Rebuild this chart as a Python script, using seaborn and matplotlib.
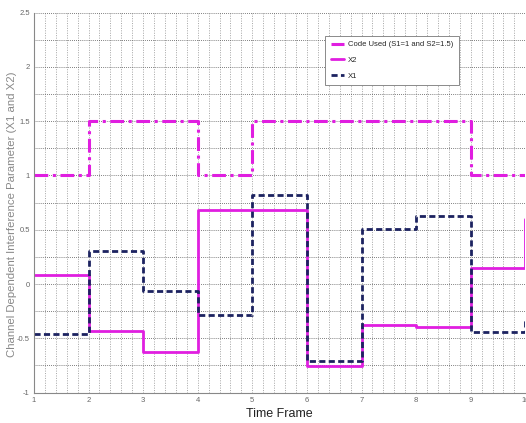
import pandas as pd
import seaborn as sns
import matplotlib.pyplot as plt
from matplotlib.ticker import MultipleLocator

sns.set_theme(style="white")
plt.rcParams['font.family'] = ['Liberation Sans Narrow', 'Liberation Sans', 'DejaVu Sans']

# time frames (value at each frame holds until the next one)
frames = [1, 2, 3, 4, 5, 6, 7, 8, 9, 10]
code_used = [1, 1.5, 1.5, 1, 1.5, 1.5, 1.5, 1.5, 1, 1]
x2 = [0.08, -0.43, -0.63, 0.68, 0.68, -0.755, -0.38, -0.40, 0.15, 0.60]
x1 = [-0.46, 0.30, -0.06, -0.29, 0.82, -0.71, 0.505, 0.63, -0.44, -0.32]

df = pd.DataFrame({"frame": frames, "code": code_used, "X2": x2, "X1": x1})

fig = plt.figure(figsize=(5.26, 4.23), dpi=100)
ax = fig.add_axes([0.0646, 0.072, 0.934, 0.898])

magenta = "#e01ee0"
navy = "#1c2260"

sns.lineplot(data=df, x="frame", y="code", ax=ax, drawstyle="steps-post",
             color=magenta, linewidth=2.2, linestyle=(0, (4.5, 1.5, 1, 1.5)),
             label="Code Used (S1=1 and S2=1.5)")
sns.lineplot(data=df, x="frame", y="X2", ax=ax, drawstyle="steps-post",
             color=magenta, linewidth=2.0, label="X2")
sns.lineplot(data=df, x="frame", y="X1", ax=ax, drawstyle="steps-post",
             color=navy, linewidth=2.0, linestyle=(0, (2.2, 1.2)), label="X1")

ax.set_xlim(1, 10)
ax.set_ylim(-1, 2.5)
ax.xaxis.set_major_locator(MultipleLocator(1))
ax.xaxis.set_minor_locator(MultipleLocator(0.2))
ax.yaxis.set_minor_locator(MultipleLocator(0.25))
ax.set_yticks([-1, -0.5, 0, 0.5, 1, 1.5, 2, 2.5])
ax.set_yticklabels(["-1", "-0.5", "0", "0.5", "1", "1.5", "2", "2.5"])

ax.grid(which="both", axis="y", color="#555555", linestyle=(0, (1, 1.5)), linewidth=0.6)
ax.grid(which="both", axis="x", color="#888888", linestyle=(0, (1.5, 2)), linewidth=0.5)

ax.tick_params(which="major", direction="in", length=3, width=0.6, color="#777777",
               labelsize=5.5, labelcolor="#666666", pad=3)
ax.tick_params(which="minor", length=0)

for side in ["left", "bottom"]:
    ax.spines[side].set_color("#888888")
    ax.spines[side].set_linewidth(0.8)
for side in ["top", "right"]:
    ax.spines[side].set_visible(False)

ax.set_xlabel("Time Frame", fontsize=9, color="#222222", labelpad=3)
ax.set_ylabel("Channel Dependent Interference Parameter (X1 and X2)", fontsize=8.2,
              color="#888888")
ax.yaxis.set_label_coords(-0.035, 0.47)

leg = ax.legend(loc="upper left", bbox_to_anchor=(0.585, 0.95), fontsize=5.5,
                frameon=True, fancybox=False, framealpha=1, edgecolor="#777777",
                handlelength=1.8, handletextpad=0.5, borderpad=0.7, labelspacing=1.1)
leg.get_frame().set_linewidth(0.6)

plt.savefig("out.png", dpi=100)
